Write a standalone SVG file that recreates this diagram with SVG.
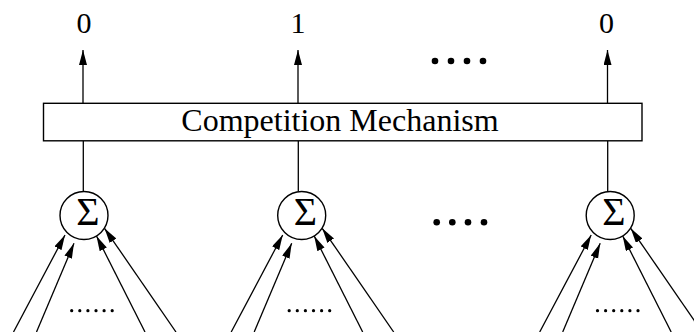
<svg xmlns="http://www.w3.org/2000/svg" width="694" height="332" viewBox="0 0 694 332">
<style>
.ln{stroke:#000;stroke-width:1.3;fill:none}
.ar{stroke:#000;stroke-width:1.3;fill:none;marker-end:url(#ah)}
.t{font-family:"Liberation Serif","Times New Roman",serif;fill:#000}
.node{fill:#fff;stroke:#000;stroke-width:1.4}
.dot{fill:#000}
</style>
<defs>
<marker id="ah" markerUnits="userSpaceOnUse" markerWidth="16" markerHeight="9" refX="15" refY="4" orient="auto">
<path d="M0,0 L15,4 L0,8 z" fill="#000"/>
</marker>
</defs>
<rect width="694" height="332" fill="#fff"/>
<g id="connectors">
<line class="ar" x1="83" y1="103" x2="83" y2="50"/>
<line class="ar" x1="298" y1="103" x2="298" y2="50"/>
<line class="ar" x1="607.5" y1="103" x2="607.5" y2="50"/>
<line class="ln" x1="83.3" y1="141" x2="83.3" y2="191.5"/>
<line class="ln" x1="298.3" y1="141" x2="298.3" y2="191.5"/>
<line class="ln" x1="607.7" y1="141" x2="607.7" y2="191.5"/>
<line class="ar" x1="13.5" y1="332" x2="65" y2="235"/>
<line class="ar" x1="36.5" y1="332" x2="74" y2="243.3"/>
<line class="ar" x1="145" y1="332" x2="96.5" y2="236"/>
<line class="ar" x1="176" y1="332" x2="104.5" y2="228.3"/>
<line class="ar" x1="231.2" y1="332" x2="282.7" y2="235"/>
<line class="ar" x1="254.2" y1="332" x2="291.7" y2="243.3"/>
<line class="ar" x1="362.7" y1="332" x2="314.2" y2="236"/>
<line class="ar" x1="393.7" y1="332" x2="322.2" y2="228.3"/>
<line class="ar" x1="539.7" y1="332" x2="591.2" y2="235"/>
<line class="ar" x1="562.7" y1="332" x2="600.2" y2="243.3"/>
<line class="ar" x1="671.2" y1="332" x2="622.7" y2="236"/>
<line class="ar" x1="702.2" y1="332" x2="630.7" y2="228.3"/>
</g>
<g id="outputs">
<text class="t" x="84" y="33" font-size="30" text-anchor="middle">0</text>
<text class="t" x="298" y="33" font-size="30" text-anchor="middle">1</text>
<text class="t" x="606.5" y="33" font-size="30" text-anchor="middle">0</text>
<circle class="dot" cx="435" cy="61" r="3.3"/>
<circle class="dot" cx="451" cy="61" r="3.3"/>
<circle class="dot" cx="467" cy="61" r="3.3"/>
<circle class="dot" cx="483" cy="61" r="3.3"/>
</g>
<g id="competition">
<rect class="node" x="43.5" y="103.3" width="598.5" height="37.5"/>
<text class="t" x="340" y="131" font-size="32" text-anchor="middle">Competition Mechanism</text>
</g>
<g id="sum1">
<circle class="node" cx="84" cy="215.5" r="24"/>
<text class="t" x="88" y="225" font-size="40" text-anchor="middle">Σ</text>
</g>
<g id="sum2">
<circle class="node" cx="301.7" cy="215.5" r="24"/>
<text class="t" x="305.5" y="225" font-size="40" text-anchor="middle">Σ</text>
</g>
<g id="sum3">
<circle class="node" cx="610.2" cy="215.5" r="24"/>
<text class="t" x="614" y="225" font-size="40" text-anchor="middle">Σ</text>
</g>
<g id="ellipses">
<circle class="dot" cx="436.7" cy="222.3" r="3.3"/>
<circle class="dot" cx="452.3" cy="222.3" r="3.3"/>
<circle class="dot" cx="468" cy="222.3" r="3.3"/>
<circle class="dot" cx="484" cy="222.3" r="3.3"/>
<g id="small1">
<circle class="dot" cx="71.7" cy="310.7" r="1.6"/><circle class="dot" cx="79.8" cy="310.7" r="1.6"/><circle class="dot" cx="87.9" cy="310.7" r="1.6"/><circle class="dot" cx="96" cy="310.7" r="1.6"/><circle class="dot" cx="104.1" cy="310.7" r="1.6"/><circle class="dot" cx="112.2" cy="310.7" r="1.6"/>
</g>
<g id="small2">
<circle class="dot" cx="289.2" cy="310.7" r="1.6"/><circle class="dot" cx="297.3" cy="310.7" r="1.6"/><circle class="dot" cx="305.4" cy="310.7" r="1.6"/><circle class="dot" cx="313.5" cy="310.7" r="1.6"/><circle class="dot" cx="321.6" cy="310.7" r="1.6"/><circle class="dot" cx="329.7" cy="310.7" r="1.6"/>
</g>
<g id="small3">
<circle class="dot" cx="597.5" cy="310.7" r="1.6"/><circle class="dot" cx="605.6" cy="310.7" r="1.6"/><circle class="dot" cx="613.7" cy="310.7" r="1.6"/><circle class="dot" cx="621.8" cy="310.7" r="1.6"/><circle class="dot" cx="629.9" cy="310.7" r="1.6"/><circle class="dot" cx="638" cy="310.7" r="1.6"/>
</g>
</g>
</svg>
